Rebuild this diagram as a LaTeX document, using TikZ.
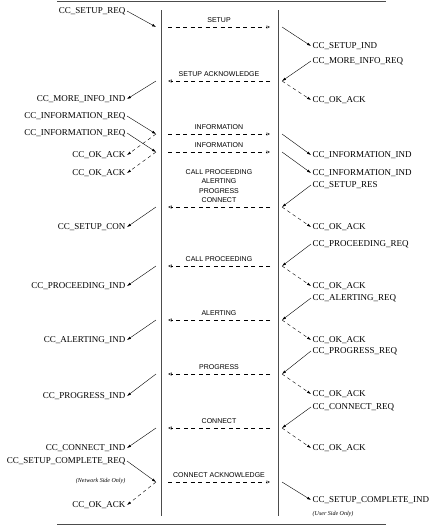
\documentclass[tikz,border=0pt]{standalone}
\usepackage{fontspec}
\setmainfont{Liberation Serif}
\setsansfont{Liberation Sans}
\usetikzlibrary{arrows.meta}

\begin{document}
\begin{tikzpicture}[x=1pt,y=-1pt,>={Latex[length=4pt,width=2.6pt]},
	prim node/.style={font=\fontsize{9}{10}\selectfont,inner sep=1.5pt},
	side node/.style={font=\itshape\fontsize{6}{7}\selectfont,inner sep=1.5pt},
	msg node/.style={font=\sffamily\fontsize{7}{9.5}\selectfont,align=center,inner sep=1.5pt,above=2.5pt},
	msg line/.style={dash pattern=on 4pt off 3.5pt,-{Triangle[open,length=3.5pt,width=3pt]},shorten >=12pt,shorten <=12pt},
	ack line/.style={->,dash pattern=on 3.5pt off 3pt}]
		
		\useasboundingbox (0,0) rectangle (438,528);
		
		% frame and the two sides
		\draw[black!70] (57,1) -- (386,1);
		\draw[black!70] (57,524) -- (386,524);
		\draw[black!70] (161,10) -- (161,516);
		\draw[black!70] (278,10) -- (278,516);
		
		\coordinate (l1) at (156,27);  \coordinate (r1) at (282,27);
		\coordinate (l2) at (156,81);  \coordinate (r2) at (282,81);
		\coordinate (l3) at (156,134); \coordinate (r3) at (282,134);
		\coordinate (l4) at (156,152); \coordinate (r4) at (282,152);
		\coordinate (l5) at (156,207); \coordinate (r5) at (282,207);
		\coordinate (l6) at (156,266); \coordinate (r6) at (282,266);
		\coordinate (l7) at (156,320); \coordinate (r7) at (282,320);
		\coordinate (l8) at (156,374); \coordinate (r8) at (282,374);
		\coordinate (l9) at (156,428); \coordinate (r9) at (282,428);
		\coordinate (l10) at (156,482); \coordinate (r10) at (282,482);
		
		% left side
		\node[prim node,anchor=east] (setupreq) at (127,11) {CC\_SETUP\_REQ};
		\node[prim node,anchor=east] (moreinfoind) at (127,99) {CC\_MORE\_INFO\_IND};
		\node[prim node,anchor=east] (inforeqa) at (127,116) {CC\_INFORMATION\_REQ};
		\node[prim node,anchor=east] (inforeqb) at (127,133) {CC\_INFORMATION\_REQ};
		\node[prim node,anchor=east] (okla) at (127,155) {CC\_OK\_ACK};
		\node[prim node,anchor=east] (oklb) at (127,173) {CC\_OK\_ACK};
		\node[prim node,anchor=east] (setupcon) at (127,227) {CC\_SETUP\_CON};
		\node[prim node,anchor=east] (procind) at (127,286) {CC\_PROCEEDING\_IND};
		\node[prim node,anchor=east] (alertind) at (127,340) {CC\_ALERTING\_IND};
		\node[prim node,anchor=east] (progind) at (127,396) {CC\_PROGRESS\_IND};
		\node[prim node,anchor=east] (connind) at (127,448) {CC\_CONNECT\_IND};
		\node[prim node,anchor=east] (compreq) at (127,461) {CC\_SETUP\_COMPLETE\_REQ};
		\node[side node,anchor=east] (netonly) at (127,481) {(Network Side Only)};
		\node[prim node,anchor=east] (oklc) at (127,505) {CC\_OK\_ACK};
		
		% right side
		\node[prim node,anchor=west] (setupind) at (311,46) {CC\_SETUP\_IND};
		\node[prim node,anchor=west] (moreinforeq) at (311,61) {CC\_MORE\_INFO\_REQ};
		\node[prim node,anchor=west] (okra) at (311,100) {CC\_OK\_ACK};
		\node[prim node,anchor=west] (infoinda) at (311,155) {CC\_INFORMATION\_IND};
		\node[prim node,anchor=west] (infoindb) at (311,173) {CC\_INFORMATION\_IND};
		\node[prim node,anchor=west] (setupres) at (311,185) {CC\_SETUP\_RES};
		\node[prim node,anchor=west] (okrb) at (311,227) {CC\_OK\_ACK};
		\node[prim node,anchor=west] (procreq) at (311,244) {CC\_PROCEEDING\_REQ};
		\node[prim node,anchor=west] (okrc) at (311,286) {CC\_OK\_ACK};
		\node[prim node,anchor=west] (alertreq) at (311,298) {CC\_ALERTING\_REQ};
		\node[prim node,anchor=west] (okrd) at (311,340) {CC\_OK\_ACK};
		\node[prim node,anchor=west] (progreq) at (311,351) {CC\_PROGRESS\_REQ};
		\node[prim node,anchor=west] (okre) at (311,394) {CC\_OK\_ACK};
		\node[prim node,anchor=west] (connreq) at (311,407) {CC\_CONNECT\_REQ};
		\node[prim node,anchor=west] (okrf) at (311,448) {CC\_OK\_ACK};
		\node[prim node,anchor=west] (compind) at (311,500) {CC\_SETUP\_COMPLETE\_IND};
		\node[side node,anchor=west] (useronly) at (311,514) {(User Side Only)};
		
		% messages
		\draw[msg line] (l1) -- node[msg node] (m1) {SETUP} (r1);
		\draw[msg line] (r2) -- node[msg node] (m2) {SETUP ACKNOWLEDGE} (l2);
		\draw[msg line] (l3) -- node[msg node] (m3) {INFORMATION} (r3);
		\draw[msg line] (l4) -- node[msg node] (m4) {INFORMATION} (r4);
		\draw[msg line] (r5) -- node[msg node] (m5) {CALL PROCEEDING\\ALERTING\\PROGRESS\\CONNECT} (l5);
		\draw[msg line] (r6) -- node[msg node] (m6) {CALL PROCEEDING} (l6);
		\draw[msg line] (r7) -- node[msg node] (m7) {ALERTING} (l7);
		\draw[msg line] (r8) -- node[msg node] (m8) {PROGRESS} (l8);
		\draw[msg line] (r9) -- node[msg node] (m9) {CONNECT} (l9);
		\draw[msg line] (l10) -- node[msg node] (m10) {CONNECT ACKNOWLEDGE} (r10);
		
		% primitives
		\draw[->] (setupreq.east) -- (l1);
		\draw[->] (r1) -- (setupind.west);
		
		\draw[->] (moreinforeq.west) -- (r2);
		\draw[ack line] (r2) -- (okra.west);
		\draw[->] (l2) -- (moreinfoind.east);
		
		\draw[->] (inforeqa.east) -- (l3);
		\draw[ack line] (l3) -- (okla.east);
		\draw[->] (r3) -- (infoinda.west);
		
		\draw[->] (inforeqb.east) -- (l4);
		\draw[ack line] (l4) -- (oklb.east);
		\draw[->] (r4) -- (infoindb.west);
		
		\draw[->] (setupres.west) -- (r5);
		\draw[ack line] (r5) -- (okrb.west);
		\draw[->] (l5) -- (setupcon.east);
		
		\draw[->] (procreq.west) -- (r6);
		\draw[ack line] (r6) -- (okrc.west);
		\draw[->] (l6) -- (procind.east);
		
		\draw[->] (alertreq.west) -- (r7);
		\draw[ack line] (r7) -- (okrd.west);
		\draw[->] (l7) -- (alertind.east);
		
		\draw[->] (progreq.west) -- (r8);
		\draw[ack line] (r8) -- (okre.west);
		\draw[->] (l8) -- (progind.east);
		
		\draw[->] (connreq.west) -- (r9);
		\draw[ack line] (r9) -- (okrf.west);
		\draw[->] (l9) -- (connind.east);
		
		\draw[->] (compreq.east) -- (l10);
		\draw[ack line] (l10) -- (oklc.east);
		\draw[->] (r10) -- (compind.west);
		
		\end{tikzpicture}
\end{document}
